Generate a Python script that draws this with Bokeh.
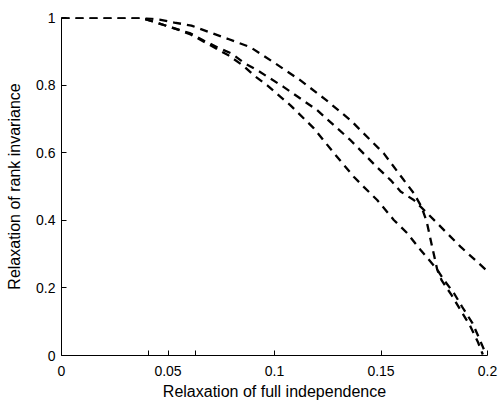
from bokeh.plotting import figure
from bokeh.models import FixedTicker, Range1d
from bokeh.embed import file_html
from bokeh.resources import INLINE

# Curve data
x_top = [0.000, 0.037, 0.046, 0.053, 0.061, 0.070, 0.078, 0.0887, 0.0997, 0.1122, 0.1240,
         0.1357, 0.1513, 0.1600, 0.1654, 0.1690, 0.1715, 0.1740, 0.1764, 0.1785, 0.1830,
         0.1868, 0.1918, 0.1955, 0.1978]
y_top = [1.000, 1.000, 0.994, 0.985, 0.976, 0.955, 0.937, 0.912, 0.867, 0.814, 0.757,
         0.696, 0.598, 0.525, 0.480, 0.440, 0.395, 0.322, 0.254, 0.222, 0.180,
         0.140, 0.088, 0.040, 0.003]

x_mid = [0.000, 0.037, 0.046, 0.053, 0.0606, 0.0667, 0.0731, 0.080, 0.0856, 0.0919, 0.1044,
         0.120, 0.1357, 0.148, 0.1545, 0.1592, 0.1654, 0.1717, 0.181, 0.1873, 0.199]
y_mid = [1.000, 1.000, 0.982, 0.968, 0.953, 0.932, 0.912, 0.893, 0.866, 0.844, 0.794,
         0.726, 0.637, 0.558, 0.519, 0.485, 0.460, 0.421, 0.362, 0.322, 0.255]

x_bot = [0.000, 0.037, 0.046, 0.053, 0.0606, 0.0784, 0.0856, 0.0903, 0.0966, 0.1075, 0.1185,
         0.128, 0.1372, 0.1419, 0.1482, 0.156, 0.1623, 0.1685, 0.1764, 0.1795, 0.1842,
         0.1880, 0.1930, 0.1965, 0.199]
y_bot = [1.000, 1.000, 0.982, 0.968, 0.950, 0.888, 0.856, 0.829, 0.799, 0.740, 0.672,
         0.598, 0.529, 0.499, 0.460, 0.401, 0.362, 0.313, 0.254, 0.224, 0.185,
         0.145, 0.095, 0.045, 0.008]

x_ticks = [0, 0.0407, 0.05, 0.063, 0.1, 0.15, 0.2]
x_tick_labels = {0: "0", 0.0407: "", 0.05: "0.05", 0.063: "", 0.1: "0.1", 0.15: "0.15", 0.2: "0.2"}
y_ticks = [0, 0.2, 0.4, 0.6, 0.8, 1]
y_tick_labels = {0: "0", 0.2: "0.2", 0.4: "0.4", 0.6: "0.6", 0.8: "0.8", 1: "1"}

x_title = "Relaxation of full independence"
y_title = "Relaxation of rank invariance"

FONT = "Liberation Sans"

p = figure(width=498, height=403, output_backend="svg", toolbar_location=None,
           x_range=Range1d(0, 0.2), y_range=Range1d(0, 1),
           min_border_left=61, min_border_top=17, min_border_right=11, min_border_bottom=48)
p.grid.visible = False
p.outline_line_color = None
p.background_fill_color = "white"
p.border_fill_color = "white"

for xs, ys in [(x_top, y_top), (x_mid, y_mid), (x_bot, y_bot)]:
    p.line(xs, ys, line_color="black", line_width=2.3, line_dash="8 6")

p.xaxis.ticker = FixedTicker(ticks=x_ticks)
p.xaxis.major_label_overrides = x_tick_labels
p.yaxis.ticker = FixedTicker(ticks=y_ticks)
p.yaxis.major_label_overrides = y_tick_labels

p.xaxis.axis_label = x_title
p.yaxis.axis_label = y_title

for ax in [p.xaxis[0], p.yaxis[0]]:
    ax.axis_line_color = "black"
    ax.axis_line_width = 1
    ax.major_tick_in = 5
    ax.major_tick_out = 0
    ax.major_tick_line_color = "black"
    ax.minor_tick_line_color = None
    ax.major_label_text_font = FONT
    ax.major_label_text_font_size = "14px"
    ax.major_label_text_color = "black"
    ax.axis_label_text_font = FONT
    ax.axis_label_text_font_size = "16px"
    ax.axis_label_text_font_style = "normal"
    ax.axis_label_text_color = "black"

p.xaxis.major_label_standoff = 10
p.xaxis.axis_label_standoff = 4
p.yaxis.major_label_standoff = 6
p.yaxis.axis_label_standoff = 10

open("out.html", "w").write(file_html(p, INLINE))
